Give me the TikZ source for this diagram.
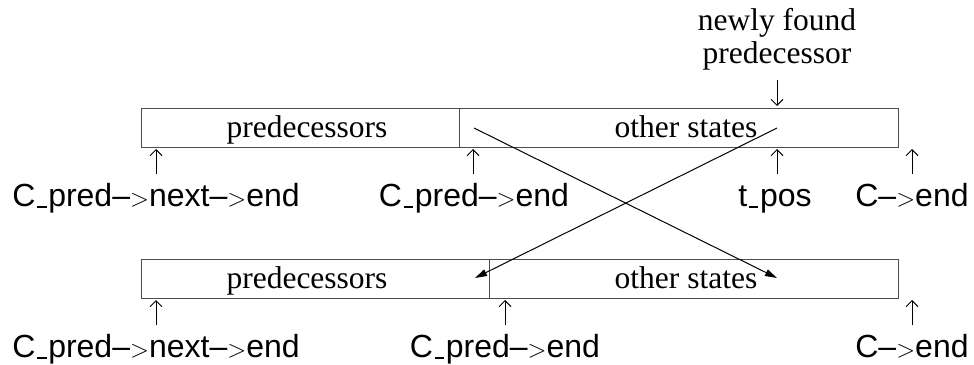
\documentclass[tikz,border=0pt]{standalone}
\usepackage{fontspec}
\setmainfont{Liberation Serif}
\setsansfont{Liberation Sans}
\usetikzlibrary{arrows.meta}
\newcommand\usc{\kern0.05em\rule[-0.07em]{0.3em}{0.06em}\kern0.05em}
\begin{document}
\begin{tikzpicture}[x=1pt,y=-1pt,
  box/.style={draw=black!70, line width=1.3pt, inner sep=0pt, minimum height=39pt, anchor=north west},
  ser/.style={font=\fontsize{31.5}{33}\selectfont, inner sep=0pt, anchor=base},
  san/.style={font=\sffamily\fontsize{32}{34}\selectfont, inner sep=0pt, anchor=base},
  uarr/.style={line width=1pt, -{Straight Barb[length=6pt,width=12pt,line width=1pt]}},
  darr/.style={line width=1pt, -{Triangle[length=12pt,width=7pt]}}]
\useasboundingbox (0,0) rectangle (974,364);
% top row boxes
\node[box, minimum width=318pt] (tl) at (141,108) {};
\node[box, minimum width=439pt] (tr) at (459,108) {};
\node[ser] (tlt) at (307,137) {predecessors};
\node[ser] (trt) at (686,137) {other states};
% bottom row boxes
\node[box, minimum width=348pt] (bl) at (141,259) {};
\node[box, minimum width=409pt] (br) at (489,259) {};
\node[ser] (blt) at (307,288) {predecessors};
\node[ser] (brt) at (686,288) {other states};
% newly found predecessor
\node[ser] (nf1) at (777,30) {newly found};
\node[ser] (nf2) at (777,63) {predecessor};
\coordinate (nfs) at (777,80);
\coordinate (nfe) at (777,106);
\draw[uarr] (nfs) -- (nfe);
% top labels
\node[san] (ta) at (156,206) {C\usc pred--$>$next--$>$end};
\node[san] (tb) at (474,206) {C\usc pred--$>$end};
\node[san] (tc) at (775,206) {t\usc pos};
\node[san] (td) at (912,206) {C--$>$end};
\coordinate (tas) at (156,174); \coordinate (tae) at (156,149);
\coordinate (tbs) at (473,174); \coordinate (tbe) at (473,149);
\coordinate (tcs) at (777,174); \coordinate (tce) at (777,149);
\coordinate (tds) at (912,174); \coordinate (tde) at (912,149);
\draw[uarr] (tas) -- (tae);
\draw[uarr] (tbs) -- (tbe);
\draw[uarr] (tcs) -- (tce);
\draw[uarr] (tds) -- (tde);
% bottom labels
\node[san] (ba) at (156,357) {C\usc pred--$>$next--$>$end};
\node[san] (bb) at (505,357) {C\usc pred--$>$end};
\node[san] (bd) at (912,357) {C--$>$end};
\coordinate (bas) at (156,325); \coordinate (bae) at (156,300);
\coordinate (bbs) at (505,325); \coordinate (bbe) at (505,300);
\coordinate (bds) at (912,325); \coordinate (bde) at (912,300);
\draw[uarr] (bas) -- (bae);
\draw[uarr] (bbs) -- (bbe);
\draw[uarr] (bds) -- (bde);
% crossing arrows
\coordinate (x1s) at (474,128); \coordinate (x1e) at (777,278);
\coordinate (x2s) at (777,128); \coordinate (x2e) at (475,278);
\draw[darr] (x1s) -- (x1e);
\draw[darr] (x2s) -- (x2e);
\end{tikzpicture}
\end{document}
